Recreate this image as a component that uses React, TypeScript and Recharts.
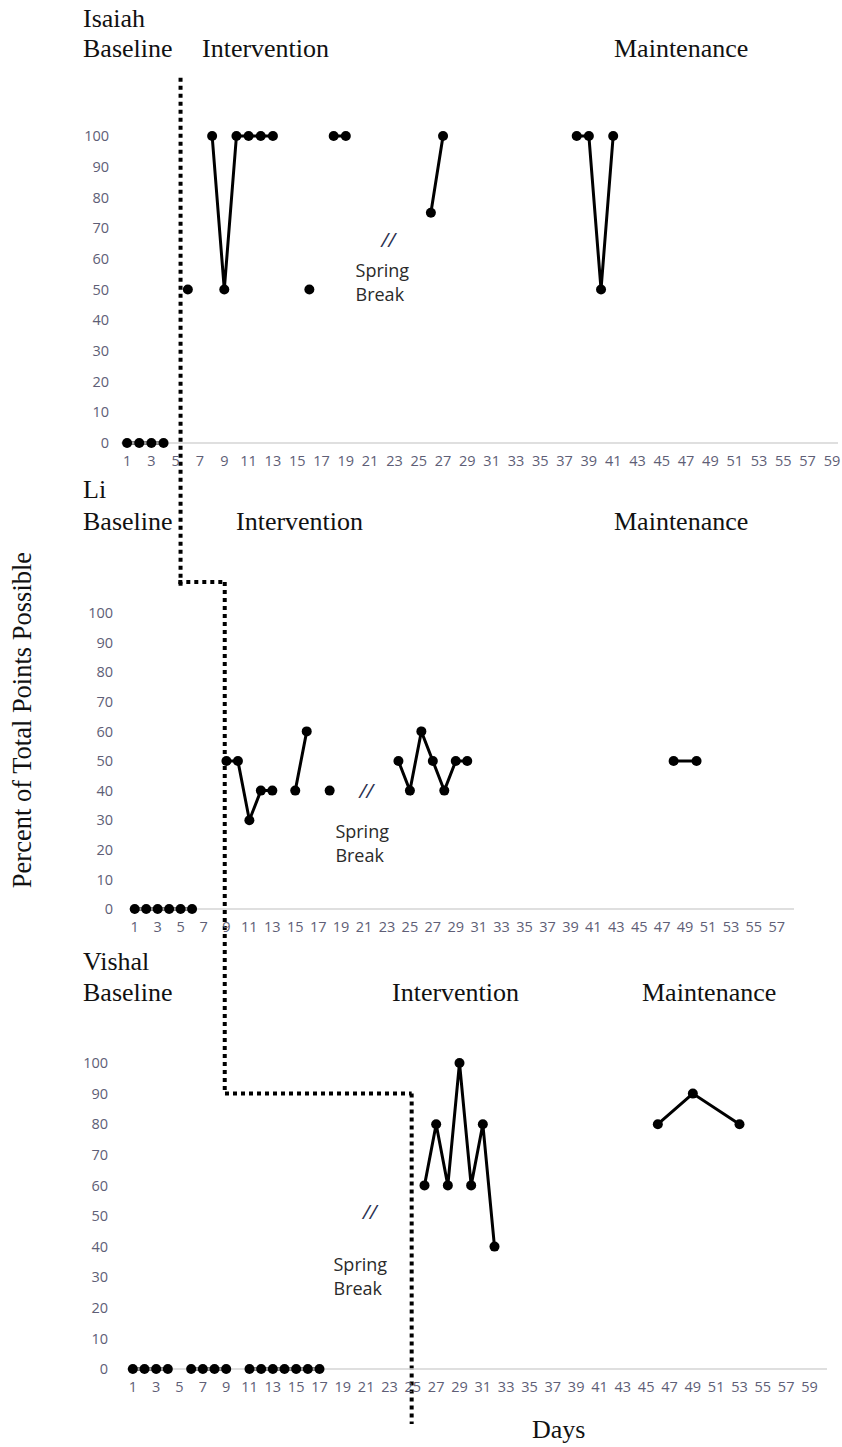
import React from 'react'
import { LineChart, Line, XAxis, YAxis, ReferenceLine, ReferenceDot } from 'recharts'

type Pt = [number, number | null]

const yTicks = [0, 10, 20, 30, 40, 50, 60, 70, 80, 90, 100]
const dayTicks59 = [1, 3, 5, 7, 9, 11, 13, 15, 17, 19, 21, 23, 25, 27, 29, 31, 33, 35, 37, 39, 41, 43, 45, 47, 49, 51, 53, 55, 57, 59]
const dayTicks57 = [1, 3, 5, 7, 9, 11, 13, 15, 17, 19, 21, 23, 25, 27, 29, 31, 33, 35, 37, 39, 41, 43, 45, 47, 49, 51, 53, 55, 57]

// Isaiah
const isaiahBaseline: Pt[] = [[1, 0], [2, 0], [3, 0], [4, 0]]
const isaiahIntervention: Pt[] = [
  [6, 50], [7, null], [8, 100], [9, 50], [10, 100], [11, 100], [12, 100], [13, 100],
  [14, null], [16, 50], [17, null], [18, 100], [19, 100], [20, null], [26, 75], [27, 100],
]
const isaiahMaintenance: Pt[] = [[38, 100], [39, 100], [40, 50], [41, 100]]

// Li
const liBaseline: Pt[] = [[1, 0], [2, 0], [3, 0], [4, 0], [5, 0], [6, 0]]
const liIntervention: Pt[] = [
  [9, 50], [10, 50], [11, 30], [12, 40], [13, 40], [14, null], [15, 40], [16, 60],
  [17, null], [18, 40], [19, null], [24, 50], [25, 40], [26, 60], [27, 50], [28, 40],
  [29, 50], [30, 50],
]
const liMaintenance: Pt[] = [[48, 50], [50, 50]]

// Vishal
const vishalBaseline: Pt[] = [
  [1, 0], [2, 0], [3, 0], [4, 0], [5, null], [6, 0], [7, 0], [8, 0], [9, 0], [10, null],
  [11, 0], [12, 0], [13, 0], [14, 0], [15, 0], [16, 0], [17, 0],
]
const vishalIntervention: Pt[] = [[26, 60], [27, 80], [28, 60], [29, 100], [30, 60], [31, 80], [32, 40]]
const vishalMaintenance: Pt[] = [[46, 80], [49, 90], [53, 80]]

const toRows = (pts: Pt[]) => pts.map(([day, v]) => ({ day, v }))

const SERIF = '"Liberation Serif", "Times New Roman", serif'
const SANS = '"Open Sans", "Noto Sans", sans-serif'
const TICK = '#5e5e76'

const SpringBreak = ({ cx, cy }: any) => (
  <text x={cx} y={cy} fontFamily={SANS} fontSize={18} fill="#2a2a2a">
    <tspan x={cx}>Spring</tspan>
    <tspan x={cx} dy={24}>Break</tspan>
  </text>
)

const Slashes = ({ cx, cy }: any) => (
  <text x={cx} y={cy} fontFamily={SANS} fontSize={20} fontStyle="italic" fill="#2b3150" textAnchor="middle">
    //
  </text>
)

type Seg = [[number, number], [number, number]]

type PanelProps = {
  top: number
  height: number
  marginTop: number
  marginRight: number
  yWidth: number
  yGap: number
  domain: [number, number]
  ticks: number[]
  series: Pt[][]
  phase: Seg[]
  slash: [number, number]
  spring: [number, number]
}

function Panel(p: PanelProps) {
  return (
    <div style={{ position: 'absolute', left: 0, top: p.top }}>
      <LineChart
        width={842}
        height={p.height}
        margin={{ top: p.marginTop, right: p.marginRight, bottom: 7, left: 0 }}
      >
        <XAxis
          type="number"
          dataKey="day"
          domain={p.domain}
          ticks={p.ticks}
          interval={0}
          allowDataOverflow
          tickLine={false}
          tickSize={0}
          tickMargin={13}
          height={20}
          axisLine={{ stroke: '#d4d4d4', strokeWidth: 1.5 }}
          tick={{ fontFamily: SANS, fontSize: 14.5, fill: TICK }}
        />
        <YAxis
          type="number"
          domain={[0, 100]}
          ticks={yTicks}
          interval={0}
          width={p.yWidth}
          axisLine={false}
          tickLine={false}
          tickSize={0}
          tickMargin={p.yGap}
          tick={{ fontFamily: SANS, fontSize: 14.5, fill: TICK }}
        />
        {p.series.map((s, i) => (
          <Line
            key={i}
            data={toRows(s)}
            dataKey="v"
            type="linear"
            stroke="#000"
            strokeWidth={3}
            dot={{ r: 5, fill: '#000', stroke: '#000', strokeWidth: 0 }}
            activeDot={false}
            isAnimationActive={false}
          />
        ))}
        {p.phase.map((seg, i) => (
          <ReferenceLine
            key={i}
            segment={[{ x: seg[0][0], y: seg[0][1] }, { x: seg[1][0], y: seg[1][1] }]}
            ifOverflow="visible"
            stroke="#000"
            strokeWidth={4}
            strokeDasharray="4 4"
          />
        ))}
        <ReferenceDot x={p.slash[0]} y={p.slash[1]} r={0} shape={<Slashes />} />
        <ReferenceDot x={p.spring[0]} y={p.spring[1]} r={0} shape={<SpringBreak />} />
      </LineChart>
    </div>
  )
}

export default function App() {
  const titles: [string, number, number][] = [
    ['Isaiah', 83, 27],
    ['Baseline', 83, 57],
    ['Intervention', 202, 57],
    ['Maintenance', 614, 57],
    ['Li', 83, 498],
    ['Baseline', 83, 530],
    ['Intervention', 236, 530],
    ['Maintenance', 614, 530],
    ['Vishal', 83, 970],
    ['Baseline', 83, 1001],
    ['Intervention', 392, 1001],
    ['Maintenance', 642, 1001],
  ]
  return (
    <div style={{ position: 'absolute', left: 0, top: 0, width: 842, height: 1447, background: '#fff' }}>
      <style>{'.recharts-surface{overflow:visible}'}</style>
      <Panel
        top={0}
        height={470}
        marginTop={136}
        marginRight={4}
        yWidth={121}
        yGap={12}
        domain={[0.5, 59.5]}
        ticks={dayTicks59}
        series={[isaiahBaseline, isaiahIntervention, isaiahMaintenance]}
        phase={[[[5.4, 119], [5.4, -47]]]}
        slash={[22.5, 64]}
        spring={[19.8, 54]}
      />
      <Panel
        top={480}
        height={456}
        marginTop={133}
        marginRight={48}
        yWidth={129}
        yGap={16}
        domain={[0.5, 58.5]}
        ticks={dayTicks57}
        series={[liBaseline, liIntervention, liMaintenance]}
        phase={[
          [[4.8, 110.5], [8.85, 110.5]],
          [[8.85, 110.5], [8.85, -62.5]],
        ]}
        slash={[21.2, 37.5]}
        spring={[18.5, 24]}
      />
      <Panel
        top={950}
        height={446}
        marginTop={113}
        marginRight={15}
        yWidth={127}
        yGap={19}
        domain={[0.5, 60.5]}
        ticks={dayTicks59}
        series={[vishalBaseline, vishalIntervention, vishalMaintenance]}
        phase={[
          [[8.9, 90], [24.9, 90]],
          [[24.9, 90], [24.9, -18]],
        ]}
        slash={[21.3, 49]}
        spring={[18.2, 32]}
      />
      <svg
        width={842}
        height={1447}
        style={{ position: 'absolute', left: 0, top: 0, pointerEvents: 'none' }}
      >
        {titles.map(([t, x, y], i) => (
          <text key={i} x={x} y={y} fontFamily={SERIF} fontSize={26} fill="#111">
            {t}
          </text>
        ))}
        <text
          x={31}
          y={720}
          transform="rotate(-90 31 720)"
          textAnchor="middle"
          fontFamily={SERIF}
          fontSize={26.5}
          fill="#111"
        >
          Percent of Total Points Possible
        </text>
        <text x={532} y={1438} fontFamily={SERIF} fontSize={26} fill="#111">
          Days
        </text>
      </svg>
    </div>
  )
}
